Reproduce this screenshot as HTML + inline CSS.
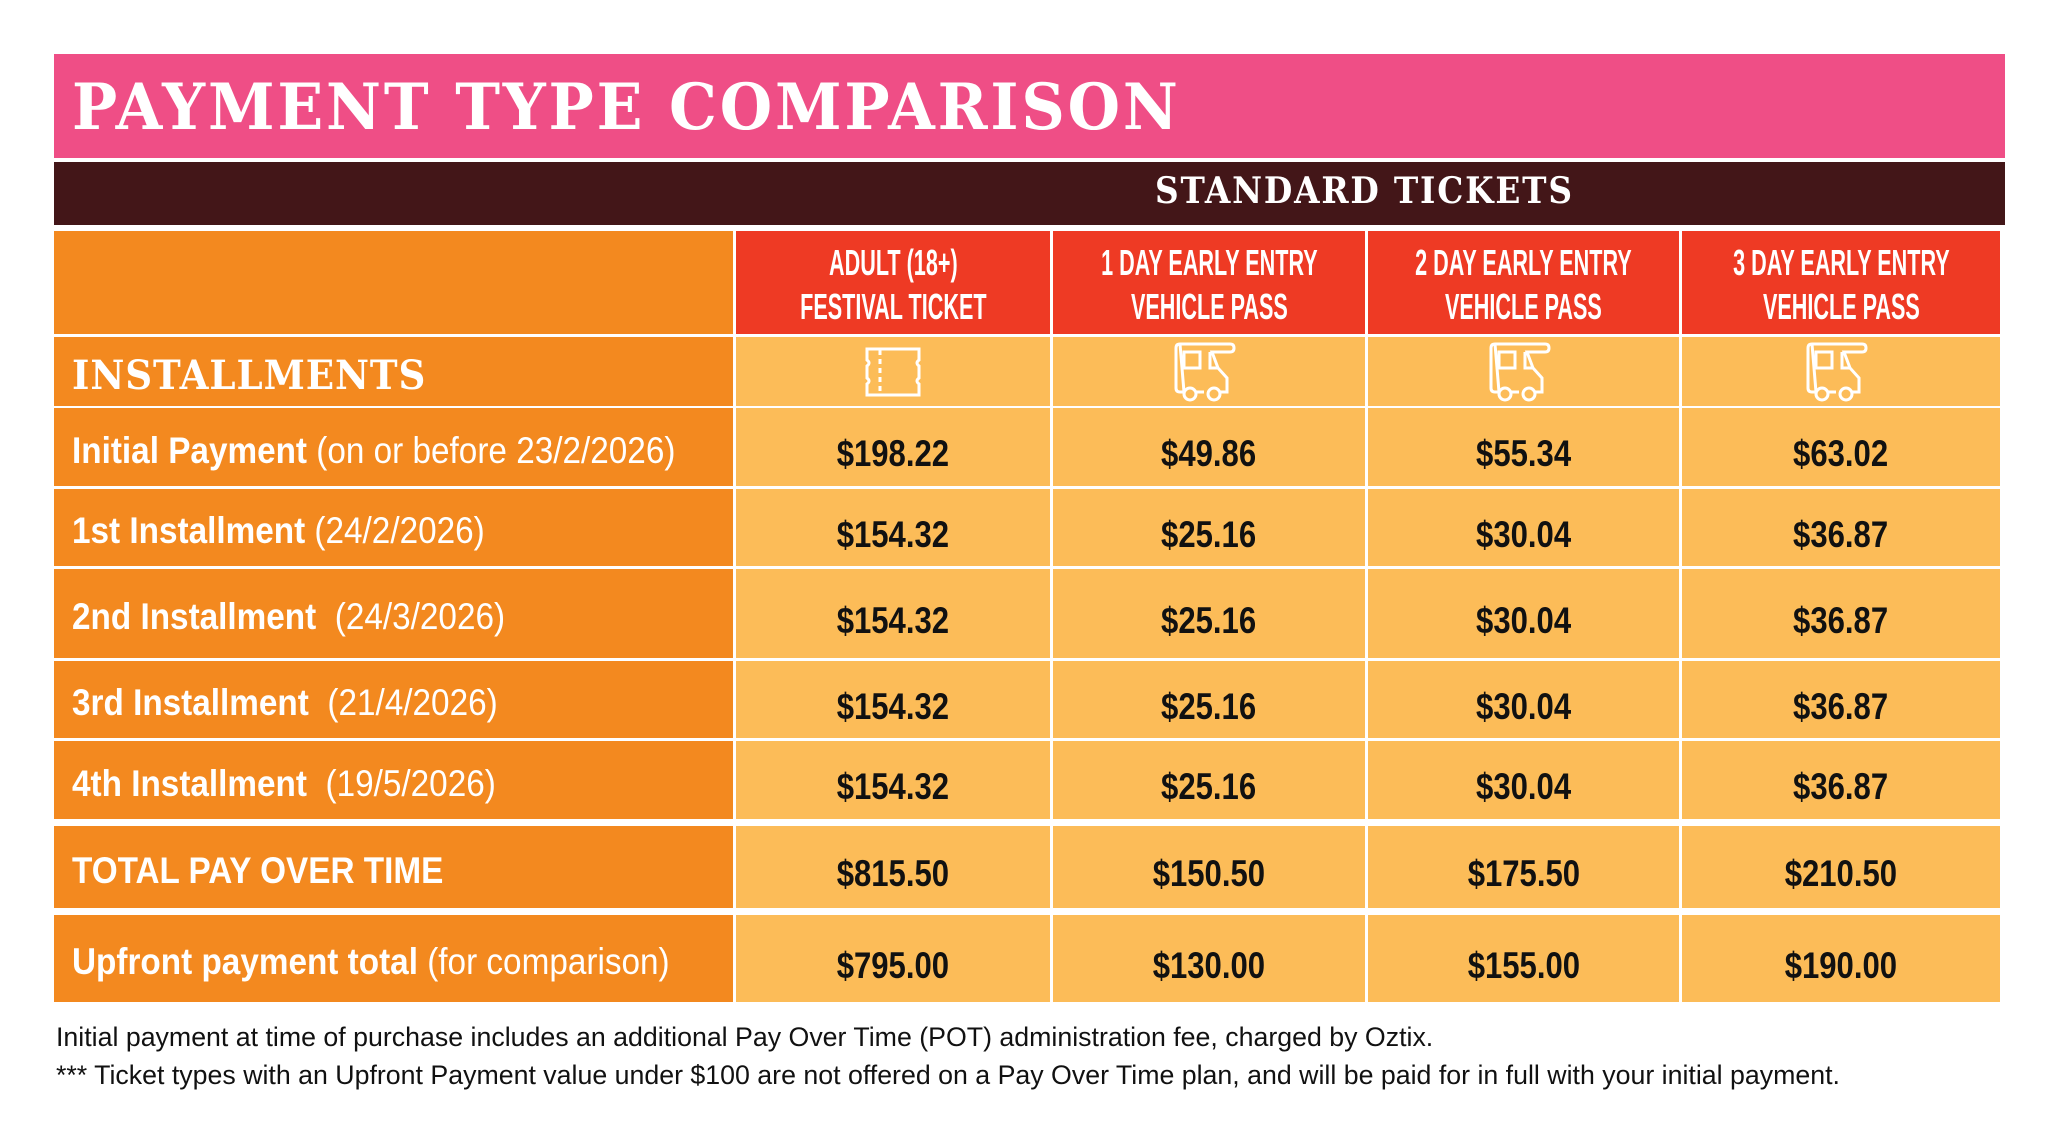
<!DOCTYPE html>
<html><head><meta charset="utf-8"><style>
body{margin:0;width:2048px;height:1123px;background:#fff;position:relative;overflow:hidden;font-family:"Liberation Sans",sans-serif}
.b{position:absolute;box-sizing:border-box}
.t{position:absolute;white-space:nowrap}
.c{display:flex;align-items:center;justify-content:center}
.v{font-weight:bold;font-size:37px;color:#111;transform:scaleX(0.84);position:relative;top:7px}
.h{color:#fff;font-weight:bold;font-size:36px;line-height:44px;text-align:center;transform:scaleX(0.6);white-space:nowrap;position:relative;top:2px}
.lbl{color:#fff;font-size:37px;transform:scaleX(0.9);transform-origin:left center;left:72px;padding-top:7px;box-sizing:border-box}
</style></head><body>
<div class="b" style="left:54px;top:54px;width:1951px;height:104px;background:#EF4E86"></div>
<div class="t" style="left:72px;top:70px;font-family:'DejaVu Serif',serif;font-weight:bold;font-size:64px;color:#fff;letter-spacing:3px;transform:scaleX(0.94);transform-origin:left">PAYMENT TYPE COMPARISON</div>
<div class="b" style="left:54px;top:162px;width:1951px;height:63px;background:#431618"></div>
<div class="t" style="left:1155px;top:170px;font-family:'DejaVu Serif',serif;font-weight:bold;font-size:36px;color:#fff;letter-spacing:2px;transform:scaleX(0.91);transform-origin:left">STANDARD TICKETS</div>

<div class="b" style="left:54px;top:231px;width:679px;height:103px;background:#F3891F"></div>
<div class="b" style="left:54px;top:337px;width:679px;height:69px;background:#F3891F"></div>
<div class="t" style="left:72px;top:352px;font-family:'DejaVu Serif',serif;font-weight:bold;font-size:40px;color:#fff;letter-spacing:1px;transform:scaleX(0.93);transform-origin:left">INSTALLMENTS</div>

<div class="b c" style="left:736px;top:231px;width:314px;height:103px;background:#EE3A24"><div class="h">ADULT (18+)<br>FESTIVAL TICKET</div></div>
<div class="b c" style="left:1053px;top:231px;width:312px;height:103px;background:#EE3A24"><div class="h">1 DAY EARLY ENTRY<br>VEHICLE PASS</div></div>
<div class="b c" style="left:1368px;top:231px;width:311px;height:103px;background:#EE3A24"><div class="h">2 DAY EARLY ENTRY<br>VEHICLE PASS</div></div>
<div class="b c" style="left:1682px;top:231px;width:318px;height:103px;background:#EE3A24"><div class="h">3 DAY EARLY ENTRY<br>VEHICLE PASS</div></div>

<div class="b c" style="left:736px;top:337px;width:314px;height:69px;background:#FCBC58"><svg width="60" height="52" viewBox="0 0 60 52" fill="none" stroke="#fff" stroke-width="3"><path d="M4 3H56V14Q52 17 56 20V32Q52 35 56 38V49H4V38Q8 35 4 32V20Q8 17 4 14Z"/><path d="M17 4V49" stroke-dasharray="5 4"/></svg></div>
<div class="b c" style="left:1053px;top:337px;width:312px;height:69px;background:#FCBC58"><svg width="70" height="60" viewBox="0 0 70 60" fill="none" stroke="#fff" stroke-width="3"><path d="M6 2H56Q60 2 60 6Q60 10 56 10H38L44 26L53 36V50H46M30 50H22M10 50H6Q2 50 2 46V6Q2 2 6 2Z"/><rect x="10" y="10" width="16" height="16"/><path d="M36 10V26H44"/><circle cx="16" cy="52" r="6"/><circle cx="40" cy="52" r="6"/></svg></div>
<div class="b c" style="left:1368px;top:337px;width:311px;height:69px;background:#FCBC58"><svg width="70" height="60" viewBox="0 0 70 60" fill="none" stroke="#fff" stroke-width="3"><path d="M6 2H56Q60 2 60 6Q60 10 56 10H38L44 26L53 36V50H46M30 50H22M10 50H6Q2 50 2 46V6Q2 2 6 2Z"/><rect x="10" y="10" width="16" height="16"/><path d="M36 10V26H44"/><circle cx="16" cy="52" r="6"/><circle cx="40" cy="52" r="6"/></svg></div>
<div class="b c" style="left:1682px;top:337px;width:318px;height:69px;background:#FCBC58"><svg width="70" height="60" viewBox="0 0 70 60" fill="none" stroke="#fff" stroke-width="3"><path d="M6 2H56Q60 2 60 6Q60 10 56 10H38L44 26L53 36V50H46M30 50H22M10 50H6Q2 50 2 46V6Q2 2 6 2Z"/><rect x="10" y="10" width="16" height="16"/><path d="M36 10V26H44"/><circle cx="16" cy="52" r="6"/><circle cx="40" cy="52" r="6"/></svg></div>

<div id="rows"></div>
<script>
var rows=[
[408,78,'<b>Initial Payment</b> (on or before 23/2/2026)',['$198.22','$49.86','$55.34','$63.02']],
[489,77,'<b>1st Installment</b> (24/2/2026)',['$154.32','$25.16','$30.04','$36.87']],
[569,89,'<b>2nd Installment</b>&nbsp; (24/3/2026)',['$154.32','$25.16','$30.04','$36.87']],
[661,77,'<b>3rd Installment</b>&nbsp; (21/4/2026)',['$154.32','$25.16','$30.04','$36.87']],
[741,78,'<b>4th Installment</b>&nbsp; (19/5/2026)',['$154.32','$25.16','$30.04','$36.87']],
[826,82,'<b>TOTAL PAY OVER TIME</b>',['$815.50','$150.50','$175.50','$210.50']],
[915,87,'<b>Upfront payment total</b> (for comparison)',['$795.00','$130.00','$155.00','$190.00']]];
var cols=[[736,314],[1053,312],[1368,311],[1682,318]];
var h='';
rows.forEach(function(r){
h+='<div class="b" style="left:54px;top:'+r[0]+'px;width:679px;height:'+r[1]+'px;background:#F3891F"></div>';
h+='<div class="t lbl" style="top:'+r[0]+'px;height:'+r[1]+'px;line-height:'+(r[1]-7)+'px">'+r[2]+'</div>';
cols.forEach(function(c,i){h+='<div class="b c" style="left:'+c[0]+'px;top:'+r[0]+'px;width:'+c[1]+'px;height:'+r[1]+'px;background:#FCBC58"><span class="v">'+r[3][i]+'</span></div>';});
});
document.getElementById('rows').innerHTML=h;
</script>
<div class="t" style="left:56px;top:1022px;font-size:27px;color:#111;transform:scaleX(0.99);transform-origin:left">Initial payment at time of purchase includes an additional Pay Over Time (POT) administration fee, charged by Oztix.</div>
<div class="t" style="left:56px;top:1060px;font-size:27px;color:#111;transform:scaleX(0.99);transform-origin:left">*** Ticket types with an Upfront Payment value under $100 are not offered on a Pay Over Time plan, and will be paid for in full with your initial payment.</div>
</body></html>
